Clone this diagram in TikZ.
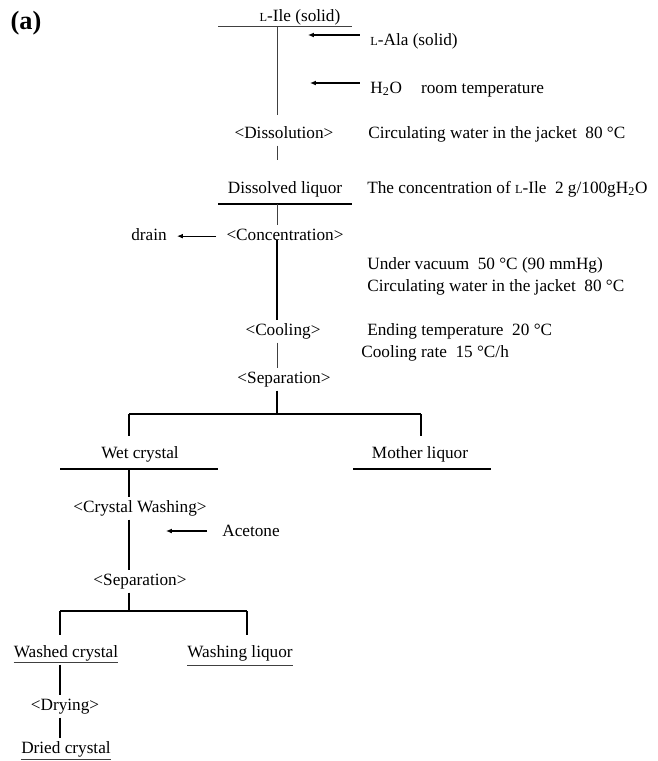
\documentclass[tikz,border=0pt]{standalone}
\usepackage{fontspec}
\setmainfont{Liberation Serif}
\usetikzlibrary{arrows.meta}
% small L as in L-Ile
\newcommand{\sL}{{\fontsize{7}{8}\selectfont L}}
\tikzset{
  txt/.style={inner xsep=0pt, inner ysep=1.7pt, text height=6.9pt, text depth=2.5pt,
    font=\fontsize{9.8}{12}\selectfont},
  link/.style={line width=0.65pt},
  thinlink/.style={line width=0.45pt, black!75},
  rule/.style={line width=0.65pt},
  feed/.style={line width=0.6pt, -{Latex[length=3.4pt,width=2.8pt]}, shorten <=5.7pt},
}
\begin{document}
\begin{tikzpicture}[x=0.02cm,y=-0.02cm]
  \useasboundingbox (0,0) rectangle (657,761);
  % columns and junctions
  \coordinate (colA) at (277,0);
  \coordinate (colB) at (129,0);
  \coordinate (colC) at (60,0);
  \coordinate (colM) at (421,0);
  \coordinate (colW) at (247,0);
  \coordinate (topA) at (277,26);
  \coordinate (ruleA) at (277,204);
  \coordinate (ruleB) at (129,469);
  \coordinate (splitA) at (277,414);
  \coordinate (splitB) at (129,611);
  \coordinate (feedA) at (308,35);
  \coordinate (feedB) at (310,83);
  \coordinate (feedC) at (166,531);

  \node[anchor=base, font=\fontsize{15}{18}\selectfont\bfseries] (tag) at (26,29) {(a)};

  % main line
  \node[txt, anchor=base] (ile) at (300,21) {\sL-Ile (solid)};
  \node[txt, anchor=base west] (ala) at (370,45) {\sL-Ala (solid)};
  \node[txt, anchor=base west] (water) at (370,93) {H\textsubscript{2}O\hspace{1.1em}room temperature};
  \node[txt, anchor=base] (diss) at (284,138) {<Dissolution>};
  \node[txt, anchor=base west] (jacketA) at (368,138) {Circulating water in the jacket\ \ 80 °C};
  \node[txt, anchor=base] (liquor) at (285,193) {Dissolved liquor};
  \node[txt, anchor=base west] (ratio) at (367,193) {The concentration of \sL-Ile\ \ 2 g/100gH\textsubscript{2}O};
  \node[txt, anchor=base] (conc) at (285,240) {<Concentration>};
  \node[txt, anchor=base east] (drain) at (167,240) {drain};
  \node[txt, anchor=base west] (vacuum) at (367,269) {Under vacuum\ \ 50 °C (90 mmHg)};
  \node[txt, anchor=base west] (jacketB) at (367,291) {Circulating water in the jacket\ \ 80 °C};
  \node[txt, anchor=base] (cool) at (283,335) {<Cooling>};
  \node[txt, anchor=base west] (endT) at (367,335) {Ending temperature\ \ 20 °C};
  \node[txt, anchor=base west] (rate) at (361,357) {Cooling rate\ \ 15 °C/h};
  \node[txt, anchor=base] (sepA) at (284,383) {<Separation>};

  % branches
  \node[txt, anchor=base] (wet) at (140,458) {Wet crystal};
  \node[txt, anchor=base] (mother) at (420,458) {Mother liquor};
  \node[txt, anchor=base] (washing) at (140,512) {<Crystal Washing>};
  \node[txt, anchor=base west] (acetone) at (222,536) {Acetone};
  \node[txt, anchor=base] (sepB) at (140,585) {<Separation>};
  \node[txt, anchor=base] (washed) at (66,657) {Washed crystal};
  \node[txt, anchor=base] (washliq) at (240,657) {Washing liquor};
  \node[txt, anchor=base] (drying) at (65,710) {<Drying>};
  \node[txt, anchor=base] (dried) at (66,753) {Dried crystal};

  % rules
  \draw[thinlink] (218,26) -- (352,26);
  \draw[rule] (218,204) -- (352,204);
  \draw[rule] (60,469) -- (218,469);
  \draw[rule] (353,469) -- (491,469);
  \draw[thinlink] ([yshift=-2.8pt]washed.base west) -- ([yshift=-2.8pt]washed.base east);
  \draw[thinlink] ([yshift=-4.5pt]washliq.base west) -- ([yshift=-4.5pt]washliq.base east);
  \draw[thinlink] ([yshift=-3.4pt]dried.base west) -- ([yshift=-3.4pt]dried.base east);

  % connectors
  \draw[thinlink, shorten >=4.5pt] (topA) -- (topA |- diss.north);
  \draw[thinlink, shorten >=10pt] (diss.south -| colA) -- (liquor.north -| colA);
  \draw[thinlink] (ruleA) -- (conc.north -| colA);
  \draw[link] (conc.base -| colA) -- (cool.north -| colA);
  \draw[thinlink] (cool.south -| colA) -- (sepA.north -| colA);
  \draw[link] (sepA.south -| colA) -- (splitA);
  \draw[link] (splitA -| colB) -- (splitA -| colM);
  \draw[link, shorten >=4pt] (splitA -| colB) -- (wet.north -| colB);
  \draw[link, shorten >=4pt] (splitA -| colM) -- (mother.north -| colM);
  \draw[link] (ruleB) -- (washing.north -| colB);
  \draw[link] (washing.south -| colB) -- (sepB.north -| colB);
  \draw[link] (sepB.south -| colB) -- (splitB);
  \draw[link] (splitB -| colC) -- (splitB -| colW);
  \draw[link, shorten >=4pt] (splitB -| colC) -- (washed.north -| colC);
  \draw[link, shorten >=4pt] (splitB -| colW) -- (washliq.north -| colW);
  \draw[link] (washed.south -| colC) -- (drying.north -| colC);
  \draw[link] (drying.south -| colC) -- (dried.north -| colC);

  % feeds and drain
  \draw[feed] (ala.west |- feedA) -- (feedA);
  \draw[feed] (water.west |- feedB) -- (feedB);
  \draw[feed, shorten <=8.5pt] (acetone.west |- feedC) -- (feedC);
  \draw[feed, shorten >=5.7pt] (conc.west) -- (drain.east);
\end{tikzpicture}
\end{document}
